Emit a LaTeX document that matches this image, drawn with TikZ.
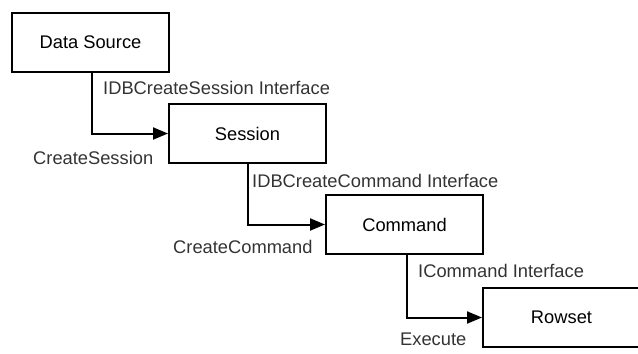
\documentclass[tikz,border=0pt]{standalone}
\usepackage{fontspec}
\setmainfont{Liberation Sans}
\usetikzlibrary{arrows.meta}
\begin{document}
\begin{tikzpicture}[x=1bp,y=-1bp,
  box/.style={draw=black,line width=2bp,minimum width=157bp,minimum height=59bp,inner sep=0pt,anchor=north west,font=\fontsize{18.3bp}{20bp}\selectfont},
  lbl/.style={inner sep=0pt,anchor=base west,font=\fontsize{18.3bp}{20bp}\selectfont,text=black!80},
  conn/.style={line width=2bp,-{Triangle[length=15bp,width=12bp]}}]
\useasboundingbox (0,0) rectangle (638,353);
\node[box] (ds) at (11,12) {Data Source};
\node[box] (sess) at (168,103) {Session};
\node[box] (cmd) at (325,194) {Command};
\node[box] (rs) at (482,287) {Rowset};
\draw[conn] ([xshift=81bp]ds.south west) |- (sess.west);
\draw[conn] ([xshift=80bp]sess.south west) |- (cmd.west);
\draw[conn] ([xshift=82bp]cmd.south west) |- (rs.west);
\node[lbl] (l1) at (103,94) {IDBCreateSession Interface};
\node[lbl] (l2) at (33,164) {CreateSession};
\node[lbl] (l3) at (252,187) {IDBCreateCommand Interface};
\node[lbl] (l4) at (173,253) {CreateCommand};
\node[lbl] (l5) at (418,277) {ICommand Interface};
\node[lbl] (l6) at (400,345) {Execute};
\end{tikzpicture}
\end{document}
